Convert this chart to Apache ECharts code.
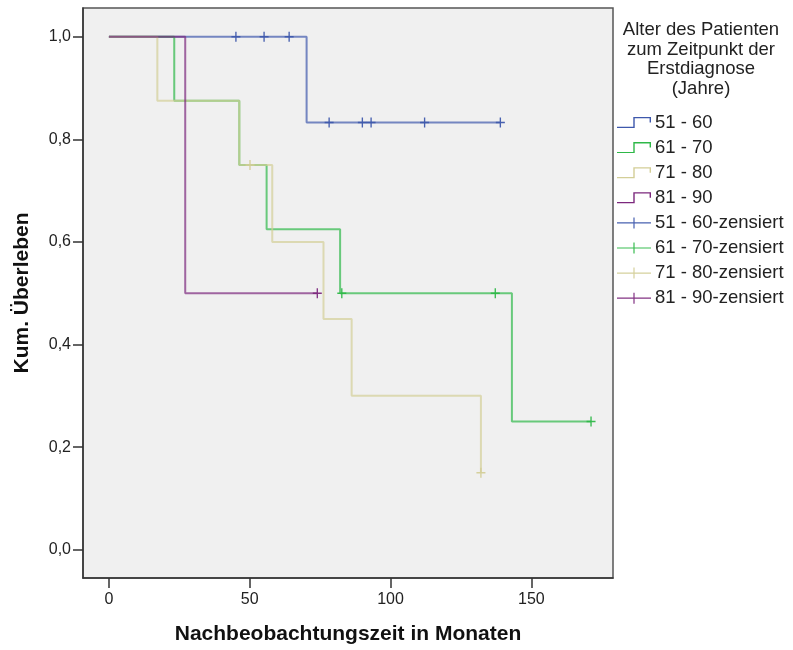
<!DOCTYPE html>
<html>
<head>
<meta charset="utf-8">
<script src="https://cdn.jsdelivr.net/npm/echarts@6/dist/echarts.min.js"></script>
<style>
  html, body { margin: 0; padding: 0; background: #ffffff; }
  #chart { width: 793px; height: 650px; }
</style>
</head>
<body>
<div id="chart"></div>
<script>
// Kaplan-Meier survival by age group at first diagnosis
const groupNames = ['51 - 60', '61 - 70', '71 - 80', '81 - 90'];
const groupColors = ['#3E58AC', '#2EB848', '#D3CE97', '#7C287D'];

// step points: event times (months) and survival after each step
const times5160 = [0, 70.2, 139.0];
const surv5160  = [1.0, 0.833, 0.833];
const times6170 = [0, 23.2, 46.3, 56.0, 82.1, 143.1, 171.2];
const surv6170  = [1.0, 0.875, 0.75, 0.625, 0.5, 0.25, 0.25];
const times7180 = [0, 17.2, 46.3, 58.0, 76.2, 86.2, 132.1];
const surv7180  = [1.0, 0.875, 0.75, 0.6, 0.45, 0.3, 0.15];
const times8190 = [0, 27.1, 74.0];
const surv8190  = [1.0, 0.5, 0.5];

// censored observations
const cens5160T = [45.1, 55.1, 64.0, 78.2, 90.0, 93.1, 112.1, 139.0];
const cens5160S = [1.0, 1.0, 1.0, 0.833, 0.833, 0.833, 0.833, 0.833];
const cens6170T = [82.7, 137.2, 171.2];
const cens6170S = [0.5, 0.5, 0.25];
const cens7180T = [50.1, 132.1];
const cens7180S = [0.75, 0.15];
const cens8190T = [74.0];
const cens8190S = [0.5];

const xTicks = [0, 50, 100, 150];
const yTicks = [0.0, 0.2, 0.4, 0.6, 0.8, 1.0];

const stepTimes = [times5160, times6170, times7180, times8190];
const stepSurv = [surv5160, surv6170, surv7180, surv8190];
const censTimes = [cens5160T, cens6170T, cens7180T, cens8190T];
const censSurv = [cens5160S, cens6170S, cens7180S, cens8190S];

const FONT = '"Liberation Sans", Arial, sans-serif';
const stepIcon = 'path://M0,9.8 L16.3,9.8 L16.3,0 L34,0 L34,5.5 L32.6,5.5 L32.6,1.3 L17.7,1.3 L17.7,11 L0,11 Z';
const plusIcon = 'path://M0,4.9 L34,4.9 L34,6.1 L0,6.1 Z M16.4,0 L17.6,0 L17.6,11 L16.4,11 Z';
const plusMark = 'path://M0,4.25 L10,4.25 L10,5.75 L0,5.75 Z M4.25,0 L5.75,0 L5.75,10 L4.25,10 Z';

const zip = (a, b) => a.map((v, i) => [v, b[i]]);

const series = [];
groupNames.forEach((name, i) => {
  series.push({
    name: name,
    type: 'line',
    step: 'end',
    showSymbol: false,
    symbol: 'none',
    data: zip(stepTimes[i], stepSurv[i]),
    itemStyle: { color: groupColors[i] },
    lineStyle: { color: groupColors[i], width: 2, opacity: 0.7 },
    z: 2 + i,
    silent: true
  });
});
groupNames.forEach((name, i) => {
  series.push({
    name: name + '-zensiert',
    type: 'scatter',
    symbol: plusMark,
    symbolSize: [9, 10],
    data: zip(censTimes[i], censSurv[i]),
    itemStyle: { color: groupColors[i], opacity: 0.95 },
    z: 10 + i,
    silent: true
  });
});

const legendData = groupNames.map(n => ({ name: n, icon: stepIcon }))
  .concat(groupNames.map(n => ({ name: n + '-zensiert', icon: plusIcon })));

const chart = echarts.init(document.getElementById('chart'), null, { renderer: 'canvas' });
chart.setOption({
  animation: false,
  backgroundColor: '#ffffff',
  textStyle: { fontFamily: FONT },
  grid: {
    left: 83, top: 8, width: 530, height: 571,
    show: true,
    backgroundColor: '#f0f0f0',
    borderColor: '#555555',
    borderWidth: 1.5
  },
  xAxis: {
    type: 'value',
    min: -9.2,
    max: 179,
    name: 'Nachbeobachtungszeit in Monaten',
    nameLocation: 'middle',
    nameGap: 46,
    nameTextStyle: { fontFamily: FONT, fontSize: 21, fontWeight: 'bold', color: '#111' },
    axisLine: { show: true, onZero: false, lineStyle: { color: '#333', width: 1.5 } },
    axisTick: { show: true, length: 10, customValues: xTicks, lineStyle: { color: '#333', width: 1.5 } },
    axisLabel: { customValues: xTicks, margin: 14, fontSize: 16, color: '#222', fontFamily: FONT },
    splitLine: { show: false }
  },
  yAxis: {
    type: 'value',
    min: -0.055,
    max: 1.056,
    name: 'Kum. Überleben',
    nameLocation: 'middle',
    nameGap: 50,
    nameRotate: 90,
    nameTextStyle: { fontFamily: FONT, fontSize: 21, fontWeight: 'bold', color: '#111' },
    axisLine: { show: true, onZero: false, lineStyle: { color: '#333', width: 1.5 } },
    axisTick: { show: true, length: 10, customValues: yTicks, lineStyle: { color: '#333', width: 1.5 } },
    axisLabel: {
      customValues: yTicks, margin: 12, fontSize: 16, color: '#222', fontFamily: FONT,
      formatter: v => v.toFixed(1).replace('.', ',')
    },
    splitLine: { show: false }
  },
  legend: {
    orient: 'vertical',
    left: 612,
    top: 107.5,
    itemWidth: 34,
    itemHeight: 11,
    itemGap: 5.1,
    selectedMode: false,
    itemStyle: { borderWidth: 0 },
    textStyle: { fontFamily: FONT, fontSize: 18.5, lineHeight: 20, color: '#222', padding: [0, 0, 0, -1] },
    data: legendData
  },
  graphic: [{
    type: 'text',
    x: 701,
    y: 20,
    style: {
      text: 'Alter des Patienten\nzum Zeitpunkt der\nErstdiagnose\n(Jahre)',
      align: 'center',
      textAlign: 'center',
      verticalAlign: 'top',
      textVerticalAlign: 'top',
      fontFamily: FONT,
      fontSize: 18.5,
      lineHeight: 19.7,
      fill: '#222'
    }
  }],
  series: series
});
</script>
</body>
</html>
